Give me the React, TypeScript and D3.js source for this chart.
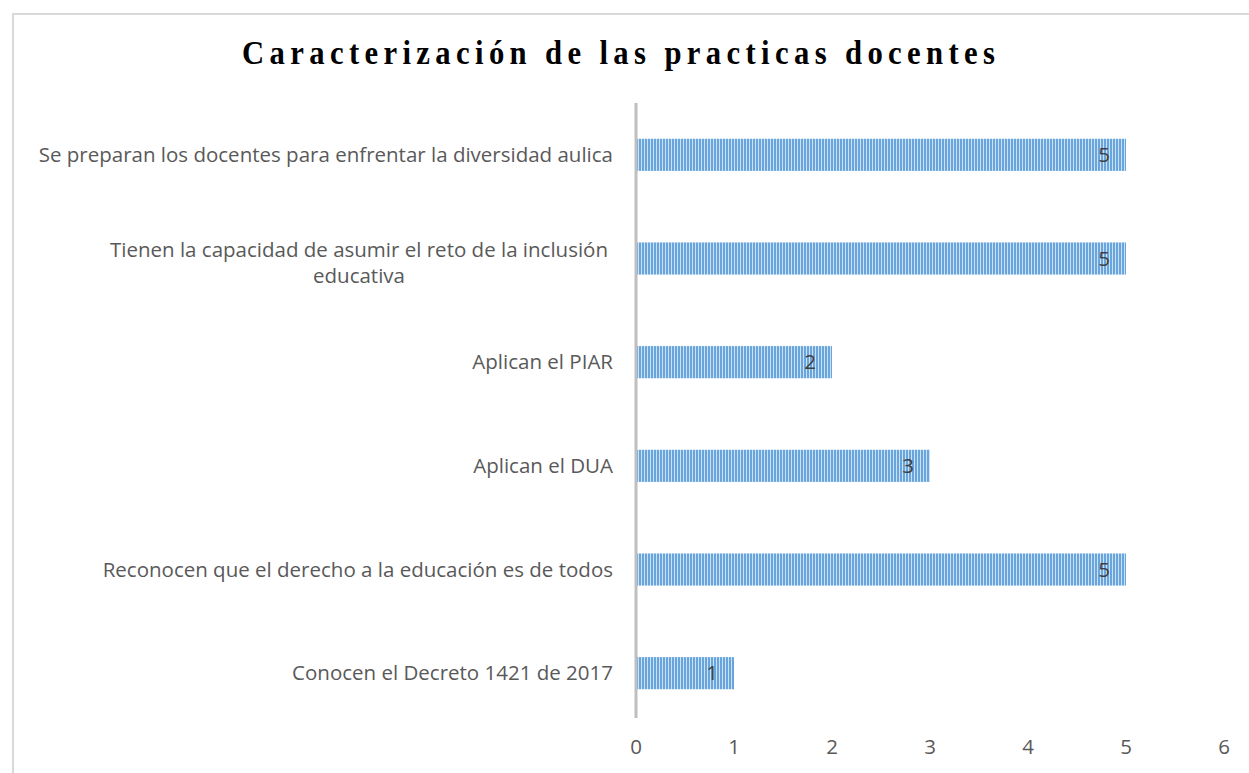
import React from "react";
import * as d3 from "d3";

const categories: string[][] = [
  ["Se preparan los docentes para enfrentar la diversidad aulica"],
  ["Tienen la capacidad de asumir el reto de la inclusión", "educativa"],
  ["Aplican el PIAR"],
  ["Aplican el DUA"],
  ["Reconocen que el derecho a la educación es de todos"],
  ["Conocen el Decreto 1421 de 2017"],
];
const values: number[] = [5, 5, 2, 3, 5, 1];
const xTicks: number[] = [0, 1, 2, 3, 4, 5, 6];
const title = "Caracterización de las practicas docentes";

const W = 1249;
const H = 773;

export default function App() {
  const x = d3.scaleLinear().domain([0, 6]).range([636, 1224]);
  const y = d3
    .scaleBand<number>()
    .domain(d3.range(categories.length))
    .range([103, 725])
    .paddingInner(0.69)
    .paddingOuter(0.345);
  const font = "'Open Sans', sans-serif";
  const fs = 20.5;
  const sx = 0.93;
  return (
    <svg
      width={W}
      height={H}
      style={{ position: "absolute", left: 0, top: 0, display: "block" }}
    >
      <defs>
        <pattern id="stripes" width={3} height={10} patternUnits="userSpaceOnUse">
          <rect x={0} y={0} width={3} height={10} fill="#CCE1F4" />
          <rect x={0} y={0} width={2} height={10} fill="#68A5DC" />
        </pattern>
      </defs>
      <rect x={0} y={0} width={W} height={H} fill="#fff" />
      <rect x={13} y={14} width={W + 10} height={H + 10} fill="none" stroke="#D9D9D9" strokeWidth={2} />
      <g transform={`translate(242,64) scale(${sx},1)`}>
        <text
          x={0}
          y={0}
          textLength={753 / sx}
          lengthAdjust="spacing"
          fontFamily="'Liberation Serif', 'Times New Roman', serif"
          fontWeight="bold"
          fontSize={33}
          fill="#000"
        >
          {title}
        </text>
      </g>
      {values.map((v, i) => (
        <g key={i}>
          <rect
            x={x(0)}
            y={y(i)}
            width={x(v) - x(0)}
            height={y.bandwidth()}
            fill="url(#stripes)"
          />
          <text
            x={x(v) - 22}
            y={(y(i) as number) + y.bandwidth() / 2}
            dy="0.35em"
            textAnchor="middle"
            fontFamily={font}
            fontSize={fs}
            fill="#404040"
          >
            {v}
          </text>
        </g>
      ))}
      <line x1={x(0)} x2={x(0)} y1={103} y2={718} stroke="#BFBFBF" strokeWidth={3} />
      {categories.map((lines, i) => {
        const cy = (y(i) as number) + y.bandwidth() / 2;
        const lh = 26;
        const start = cy - ((lines.length - 1) * lh) / 2 + (lines.length > 1 ? 4 : 0);
        const anchorX = 613;
        return (
          <text
            key={i}
            fontFamily={font}
            fontSize={fs}
            fill="#595959"
            textAnchor={lines.length > 1 ? "middle" : "end"}
          >
            {lines.map((l, j) => (
              <tspan
                key={j}
                x={lines.length > 1 ? 359 : anchorX}
                y={start + j * lh}
                dy="0.35em"
              >
                {l}
              </tspan>
            ))}
          </text>
        );
      })}
      {xTicks.map((t) => (
        <text
          key={t}
          x={x(t)}
          y={747}
          dy="0.35em"
          textAnchor="middle"
          fontFamily={font}
          fontSize={fs}
          fill="#595959"
        >
          {t}
        </text>
      ))}
    </svg>
  );
}
